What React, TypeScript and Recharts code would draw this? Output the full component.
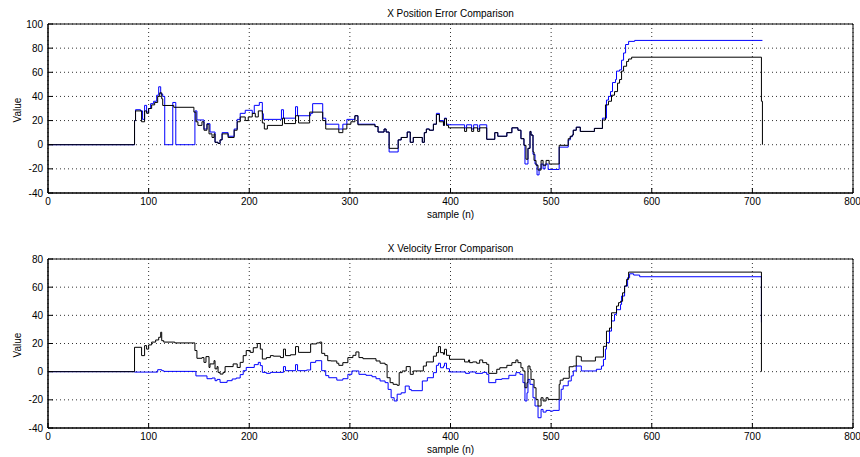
import { CartesianGrid, Line, LineChart, ReferenceArea, XAxis, YAxis } from "recharts";

// samples on the x axis, shared by both plots
const sampleTicks = [0, 100, 200, 300, 400, 500, 600, 700, 800];
const posTicks = [-40, -20, 0, 20, 40, 60, 80, 100];
const velTicks = [-40, -20, 0, 20, 40, 60, 80];

// [sample, value] breakpoints, each value holds until the next sample
const posRef: [number, number][] = [
  [0, 0], [86, 20], [87, 28], [93, 19], [96, 28], [98, 26], [100, 30], [103, 33],
  [106, 35], [109, 40], [111, 43], [113, 38], [114, 32.5], [125, 31], [145, 27],
  [147, 19], [149, 16], [153, 19], [155, 12], [158, 17], [160, 9], [163, 6],
  [165, 9], [166, 2], [169, 1], [171, 4], [173, 9], [179, 6], [185, 12], [188, 19],
  [191, 23], [196, 20], [199, 23], [203, 26], [206, 23], [209, 28], [213, 18],
  [215, 13], [218, 16], [233, 22], [235, 17.5], [246, 24], [249, 18], [260, 27],
  [273, 20], [276, 13], [289, 10], [293, 13], [297, 17], [301, 19], [305, 24],
  [308, 16.5], [325, 15], [328, 10.5], [334, 13], [336, 10.5], [339, -3], [348, 4],
  [351, 6], [357, 10.5], [360, 2], [363, 6], [372, 2], [374, 10], [376, 13],
  [379, 12], [383, 17], [386, 25], [389, 19], [393, 16], [394, 21.5], [396, 16],
  [398, 14], [414, 11], [416, 14], [421, 11], [423, 14], [427, 11], [429, 14],
  [436, 4.5], [444, 10], [447, 7], [456, 10], [461, 14], [467, 12], [470, 5],
  [473, -0.5], [475, -12], [477, -3], [479, 11], [480, 8], [482, -6], [483, -13],
  [485, -17], [487, -21], [490, -13], [492, -17], [495, -13], [498, -16],
  [508, -0.5], [517, 5], [519, 7], [521, 8], [522, 12], [525, 14.5], [529, 11],
  [543, 13.5], [551, 20.5], [554, 33], [557, 36], [560, 41], [563, 44], [566, 51],
  [568, 54], [570, 61], [572, 65], [575, 69], [577, 71], [580, 72.5], [709, 36],
  [710, 0],
];

const posEst: [number, number][] = [
  [0, 0], [86, 20], [87, 29], [92, 28], [94, 21], [96, 32.6], [98, 27], [100, 30],
  [102, 34], [105, 36], [108, 41], [110, 48], [112, 42], [114, 40], [116, 0],
  [124, 35], [127, 0], [146, 28], [148, 20.5], [155, 13], [158, 17.4], [161, 10.5],
  [166, 2], [169, 1], [171, 4], [173, 10], [179, 7], [185, 13], [188, 21], [191, 26],
  [196, 28.5], [203, 26], [205, 32.6], [210, 35], [213, 25.7], [214, 21], [232, 29],
  [234, 22], [246, 31.5], [248, 24], [261, 26], [263, 34], [273, 22], [276, 17],
  [289, 13], [293, 17], [297, 21], [305, 24], [308, 17], [325, 15], [328, 10.5],
  [334, 13], [336, 10.5], [339, -6], [348, 4], [351, 6], [357, 10.5], [360, 2],
  [363, 6], [372, 2], [374, 10], [376, 13], [379, 12], [383, 17], [386, 26],
  [389, 20], [393, 16], [394, 22], [396, 17], [398, 16.5], [414, 14], [416, 16.5],
  [421, 13], [423, 16.5], [427, 13], [429, 16.5], [436, 4.5], [444, 10], [447, 7],
  [456, 10], [461, 14], [467, 12], [470, 5], [473, -0.5], [474, -16], [477, -3],
  [479, 11], [480, 8], [482, -8], [484, -16], [486, -25], [488, -20], [490, -16],
  [492, -20], [494, -16], [497, -20.5], [508, -2], [517, 4], [519, 6.6], [521, 8],
  [522, 12], [525, 14.5], [529, 11], [543, 13.5], [551, 22], [555, 37], [557, 40],
  [559, 44], [561, 51.5], [564, 54], [565, 61], [568, 62], [570, 70], [572, 76],
  [574, 83], [577, 85.6], [583, 86.4], [710, 86.4],
];

const velRef: [number, number][] = [
  [0, 0], [86, 17.3], [93, 11.4], [96, 18.5], [98, 16], [100, 19], [103, 21],
  [107, 22.5], [110, 24.4], [112, 28], [113, 22], [115, 21], [126, 20.4], [146, 15],
  [148, 9.5], [153, 10], [155, 6.6], [157, 10.7], [160, 3], [161, 5.5], [165, 7.8],
  [166, 2], [168, 3.6], [169, -0.5], [171, -1.7], [174, -0.5], [176, 3.6], [184, 5.5],
  [188, 3], [191, 6.6], [194, 11.4], [197, 15], [201, 13.7], [204, 17], [208, 20],
  [211, 16], [213, 9], [217, 10], [221, 11.4], [224, 11], [231, 10], [234, 16],
  [236, 11.4], [241, 12], [246, 17.8], [249, 13.7], [261, 19.7], [267, 20.4],
  [270, 21], [272, 13], [275, 11.4], [278, 7.8], [281, 7.6], [287, 6], [289, 4.5],
  [293, 6.4], [298, 10], [303, 11.6], [306, 14], [309, 10], [313, 9.2], [326, 7.6],
  [330, 6], [335, 5], [337, -4.3], [340, -7.8], [343, -9], [347, -9.7], [349, -0.7],
  [352, 0.5], [356, 3.6], [360, -1.9], [363, 0.5], [373, 4], [376, 6.9], [383, 11],
  [386, 13.5], [388, 17.8], [390, 13.5], [393, 12.3], [394, 15.9], [396, 11.6],
  [399, 8.8], [414, 6.9], [418, 8.3], [419, 6.4], [422, 6.9], [426, 6], [429, 8.3],
  [432, 6.4], [436, 5.2], [438, -1.2], [446, 1.7], [449, 2.8], [456, 4.5], [461, 6.4],
  [465, 8.3], [467, 6.4], [470, 2.8], [472, 0.5], [474, -11.4], [476, -7.8], [477, 4],
  [479, 1.7], [480, -5.5], [483, -11.4], [485, -19.7], [487, -24.4], [490, -18.5],
  [492, -20.8], [495, -18.5], [497, -19.7], [508, -9], [509, -6], [512, -4.7],
  [518, 3.5], [522, 4], [525, 11], [528, 10.6], [530, 7.6], [544, 10.4], [552, 18],
  [555, 28.8], [558, 31], [560, 41.8], [565, 46.6], [567, 49], [569, 50], [571, 56],
  [573, 60.8], [575, 65.5], [577, 70.7], [709, 0],
];

const velEst: [number, number][] = [
  [0, 0], [86, -0.3], [109, 1.4], [113, 0.7], [115, 0.2], [147, -3], [158, -5],
  [163, -4.5], [166, -6.4], [168, -5.5], [171, -7.6], [178, -6.4], [183, -5.2],
  [187, -4.5], [191, -2.1], [194, 0.7], [197, 3], [205, 5], [209, 6.6], [211, 4.3],
  [213, -0.5], [217, -1.2], [221, -0.5], [234, 3.6], [236, 0.7], [246, 5], [248, 0.7],
  [257, 1.2], [261, 6.6], [266, 7.8], [272, 0.7], [276, -2.8], [279, -4.3], [287, -6],
  [293, -5], [298, -1.9], [302, 0.5], [309, -1.9], [316, -2.6], [322, -3.6], [326, -5],
  [330, -6.6], [335, -7.8], [338, -12.6], [341, -18.5], [344, -20.8], [347, -16],
  [351, -15], [355, -10.2], [359, -12.6], [361, -13.5], [372, -6.6], [377, -4.3],
  [383, -0.7], [386, 4.5], [388, 6], [390, 2.8], [393, 4], [394, 6], [396, 2.1],
  [399, -0.2], [415, -1.2], [419, -0.2], [425, -1.2], [432, -0.5], [436, -1.9],
  [438, -7.8], [445, -5.5], [451, -5], [458, -2.6], [465, -0.7], [469, -1.9],
  [472, -7.8], [474, -20.8], [476, -15], [477, -5.5], [479, -9], [482, -18.5],
  [484, -24.4], [487, -32.7], [490, -26.8], [492, -28.7], [495, -27.5], [499, -28],
  [502, -27.5], [508, -20], [510, -12.5], [512, -10], [517, -6.6], [520, -3],
  [522, 0.5], [525, 4], [530, 0.5], [545, 1.7], [550, 4], [552, 8.7], [554, 16],
  [555, 20.6], [558, 28.8], [560, 36], [563, 40.7], [565, 44], [569, 47.7],
  [570, 53.7], [573, 60.8], [576, 66.7], [578, 69.5], [582, 68.6], [588, 67.4],
  [709, 35],
];

const toRows = (pts: [number, number][]) => pts.map(([n, v]) => ({ n, v }));

const font = '"Liberation Sans", Arial, sans-serif';
const tickStyle = { fontSize: 10, fill: "#000", fontFamily: font };
const labelStyle = {
  position: "absolute" as const,
  textAlign: "center" as const,
  fontSize: 10,
  lineHeight: "12px",
  fontFamily: font,
};

type PlotProps = {
  top: number;
  title: string;
  yTicks: number[];
  reference: [number, number][];
  estimate: [number, number][];
};

const Plot = ({ top, title, yTicks, reference, estimate }: PlotProps) => {
  const yMin = yTicks[0];
  const yMax = yTicks[yTicks.length - 1];
  return (
    <div style={{ position: "absolute", left: 0, top, width: 860, height: 230 }}>
      <LineChart
        width={860}
        height={230}
        margin={{ top: 24, right: 7, bottom: 0, left: 8 }}
      >
        <CartesianGrid stroke="#333" strokeDasharray="1 3" />
        <XAxis
          dataKey="n"
          type="number"
          domain={[0, 800]}
          ticks={sampleTicks}
          height={37}
          tickSize={-5}
          tickMargin={10}
          tickLine={{ stroke: "#000" }}
          axisLine={{ stroke: "#000" }}
          tick={tickStyle}
          allowDataOverflow
        />
        <XAxis
          xAxisId="top"
          orientation="top"
          dataKey="n"
          type="number"
          domain={[0, 800]}
          ticks={sampleTicks}
          height={0}
          tickSize={-5}
          tick={false}
          tickLine={{ stroke: "#000" }}
          axisLine={false}
        />
        <YAxis
          type="number"
          domain={[yMin, yMax]}
          ticks={yTicks}
          width={40}
          tickSize={-5}
          tickMargin={10}
          tickLine={{ stroke: "#000" }}
          axisLine={{ stroke: "#000" }}
          tick={tickStyle}
          allowDataOverflow
        />
        <YAxis
          yAxisId="right"
          orientation="right"
          type="number"
          domain={[yMin, yMax]}
          ticks={yTicks}
          width={0}
          tickSize={-5}
          tick={false}
          tickLine={{ stroke: "#000" }}
          axisLine={false}
        />
        <ReferenceArea
          x1={0}
          x2={800}
          y1={yMin}
          y2={yMax}
          fill="none"
          stroke="#000"
          strokeWidth={1}
        />
        <Line
          data={toRows(estimate)}
          dataKey="v"
          type="stepAfter"
          stroke="#0000ff"
          strokeWidth={1}
          dot={false}
          isAnimationActive={false}
        />
        <Line
          data={toRows(reference)}
          dataKey="v"
          type="stepAfter"
          stroke="#000"
          strokeWidth={1}
          dot={false}
          isAnimationActive={false}
        />
      </LineChart>
      <div style={{ ...labelStyle, left: 48, width: 805, top: 8 }}>{title}</div>
      <div style={{ ...labelStyle, left: 48, width: 805, top: 209 }}>sample (n)</div>
      <div
        style={{
          ...labelStyle,
          left: -12,
          width: 60,
          top: 104,
          transform: "rotate(-90deg)",
        }}
      >
        Value
      </div>
    </div>
  );
};

export default function App() {
  return (
    <div
      style={{
        position: "absolute",
        left: 0,
        top: 0,
        width: 860,
        height: 457,
        background: "#fff",
      }}
    >
      <Plot
        top={0}
        title="X Position Error Comparison"
        yTicks={posTicks}
        reference={posRef}
        estimate={posEst}
      />
      <Plot
        top={235}
        title="X Velocity Error Comparison"
        yTicks={velTicks}
        reference={velRef}
        estimate={velEst}
      />
    </div>
  );
}
